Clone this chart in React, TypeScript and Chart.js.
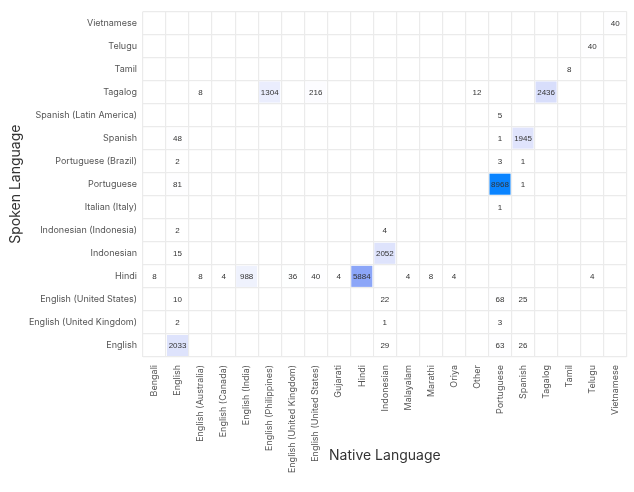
import React, { useEffect, useRef } from 'react';
import { Chart, registerables } from 'chart.js';

Chart.register(...registerables);

const nativeLanguages: string[] = [
  'Bengali', 'English', 'English (Australia)', 'English (Canada)', 'English (India)',
  'English (Philippines)', 'English (United Kingdom)', 'English (United States)', 'Gujarati',
  'Hindi', 'Indonesian', 'Malayalam', 'Marathi', 'Oriya', 'Other', 'Portuguese', 'Spanish',
  'Tagalog', 'Tamil', 'Telugu', 'Vietnamese',
];

const spokenLanguages: string[] = [
  'Vietnamese', 'Telugu', 'Tamil', 'Tagalog', 'Spanish (Latin America)', 'Spanish',
  'Portuguese (Brazil)', 'Portuguese', 'Italian (Italy)', 'Indonesian (Indonesia)', 'Indonesian',
  'Hindi', 'English (United States)', 'English (United Kingdom)', 'English',
];

// [native language, count] for each spoken language
const spokenVietnamese: [string, number][] = [['Vietnamese', 40]];
const spokenTelugu: [string, number][] = [['Telugu', 40]];
const spokenTamil: [string, number][] = [['Tamil', 8]];
const spokenTagalog: [string, number][] = [
  ['English (Australia)', 8], ['English (Philippines)', 1304], ['English (United States)', 216],
  ['Other', 12], ['Tagalog', 2436],
];
const spokenSpanishLatAm: [string, number][] = [['Portuguese', 5]];
const spokenSpanish: [string, number][] = [['English', 48], ['Portuguese', 1], ['Spanish', 1945]];
const spokenPortugueseBrazil: [string, number][] = [['English', 2], ['Portuguese', 3], ['Spanish', 1]];
const spokenPortuguese: [string, number][] = [['English', 81], ['Portuguese', 8968], ['Spanish', 1]];
const spokenItalianItaly: [string, number][] = [['Portuguese', 1]];
const spokenIndonesianIndonesia: [string, number][] = [['English', 2], ['Indonesian', 4]];
const spokenIndonesian: [string, number][] = [['English', 15], ['Indonesian', 2052]];
const spokenHindi: [string, number][] = [
  ['Bengali', 8], ['English (Australia)', 8], ['English (Canada)', 4], ['English (India)', 988],
  ['English (United Kingdom)', 36], ['English (United States)', 40], ['Gujarati', 4], ['Hindi', 5884],
  ['Malayalam', 4], ['Marathi', 8], ['Oriya', 4], ['Telugu', 4],
];
const spokenEnglishUS: [string, number][] = [['English', 10], ['Indonesian', 22], ['Portuguese', 68], ['Spanish', 25]];
const spokenEnglishUK: [string, number][] = [['English', 2], ['Indonesian', 1], ['Portuguese', 3]];
const spokenEnglish: [string, number][] = [['English', 2033], ['Indonesian', 29], ['Portuguese', 63], ['Spanish', 26]];

const rowsBySpoken: [string, [string, number][]][] = [
  ['Vietnamese', spokenVietnamese],
  ['Telugu', spokenTelugu],
  ['Tamil', spokenTamil],
  ['Tagalog', spokenTagalog],
  ['Spanish (Latin America)', spokenSpanishLatAm],
  ['Spanish', spokenSpanish],
  ['Portuguese (Brazil)', spokenPortugueseBrazil],
  ['Portuguese', spokenPortuguese],
  ['Italian (Italy)', spokenItalianItaly],
  ['Indonesian (Indonesia)', spokenIndonesianIndonesia],
  ['Indonesian', spokenIndonesian],
  ['Hindi', spokenHindi],
  ['English (United States)', spokenEnglishUS],
  ['English (United Kingdom)', spokenEnglishUK],
  ['English', spokenEnglish],
];

const colorStops: [number, number[]][] = [
  [0, [255, 255, 255]],
  [0.27, [216, 222, 251]],
  [0.656, [140, 166, 248]],
  [1, [10, 132, 255]],
];

function cellColor(t: number): string {
  for (let i = 1; i < colorStops.length; i++) {
    const [t1, c1] = colorStops[i];
    const [t0, c0] = colorStops[i - 1];
    if (t <= t1) {
      const f = (t - t0) / (t1 - t0);
      const c = c0.map((v, k) => Math.round(v + (c1[k] - v) * f));
      return `rgb(${c[0]},${c[1]},${c[2]})`;
    }
  }
  const c = colorStops[colorStops.length - 1][1];
  return `rgb(${c[0]},${c[1]},${c[2]})`;
}

const heatmapPlugin = {
  id: 'heatmapCells',
  beforeDatasetsDraw(chart: any) {
    const { ctx } = chart;
    const xs = chart.scales.x;
    const ys = chart.scales.y;
    const data = chart.data.datasets[0].data as any[];
    const max = Math.max(...data.map((d) => d.v));
    const w = (xs.right - xs.left) / nativeLanguages.length;
    const h = (ys.bottom - ys.top) / spokenLanguages.length;
    ctx.save();
    data.forEach((d) => {
      const cx = xs.getPixelForValue(nativeLanguages.indexOf(d.x));
      const cy = ys.getPixelForValue(spokenLanguages.indexOf(d.y));
      ctx.fillStyle = cellColor(d.v / max);
      ctx.fillRect(cx - w / 2 + 1, cy - h / 2 + 1, w - 2, h - 2);
      ctx.fillStyle = '#333';
      ctx.font = '8px "Liberation Sans", Arial, sans-serif';
      ctx.textAlign = 'center';
      ctx.textBaseline = 'middle';
      ctx.fillText(String(d.v), cx, cy + 0.5);
    });
    ctx.restore();
  },
};

export default function App() {
  const canvasRef = useRef<HTMLCanvasElement | null>(null);

  useEffect(() => {
    document.body.style.margin = '0';
    const points: { x: string; y: string; v: number }[] = [];
    rowsBySpoken.forEach(([spoken, row]) => {
      row.forEach(([native, v]) => points.push({ x: native, y: spoken, v }));
    });
    const tickFont = { family: 'Inter, "Noto Sans", sans-serif', size: 9 };
    const titleFont = { family: 'Inter, "Noto Sans", sans-serif', size: 14 };
    const chart = new Chart(canvasRef.current!, {
      type: 'scatter',
      data: {
        datasets: [
          {
            data: points as any,
            pointRadius: 0,
            pointHoverRadius: 0,
          },
        ],
      },
      options: {
        animation: false,
        responsive: true,
        maintainAspectRatio: false,
        layout: { padding: { top: 4, right: 1, bottom: 0, left: 0 } },
        plugins: { legend: { display: false }, tooltip: { enabled: false } },
        scales: {
          x: {
            type: 'category',
            labels: nativeLanguages,
            offset: true,
            grid: { offset: true, color: '#ebebeb', lineWidth: 1.2, drawTicks: false },
            border: { display: false },
            ticks: { autoSkip: false, maxRotation: 90, minRotation: 90, color: '#555', font: tickFont, padding: 8 },
            title: { display: true, text: 'Native Language', color: '#333', font: titleFont, padding: { top: 0, bottom: 28 } },
            afterFit: (scale: any) => { scale.height = 135; },
          },
          y: {
            type: 'category',
            labels: spokenLanguages,
            offset: true,
            grid: { offset: true, color: '#ebebeb', lineWidth: 1.2, drawTicks: false },
            border: { display: false },
            ticks: { autoSkip: false, color: '#555', font: tickFont, padding: 6 },
            title: { display: true, text: 'Spoken Language', color: '#333', font: titleFont, padding: { top: 7, bottom: 4 } },
            afterFit: (scale: any) => { scale.width = 143; },
          },
        },
      },
      plugins: [heatmapPlugin],
    });
    return () => chart.destroy();
  }, []);

  return (
    <div style={{ width: 634, height: 492, position: 'relative' }}>
      <canvas ref={canvasRef} />
    </div>
  );
}
